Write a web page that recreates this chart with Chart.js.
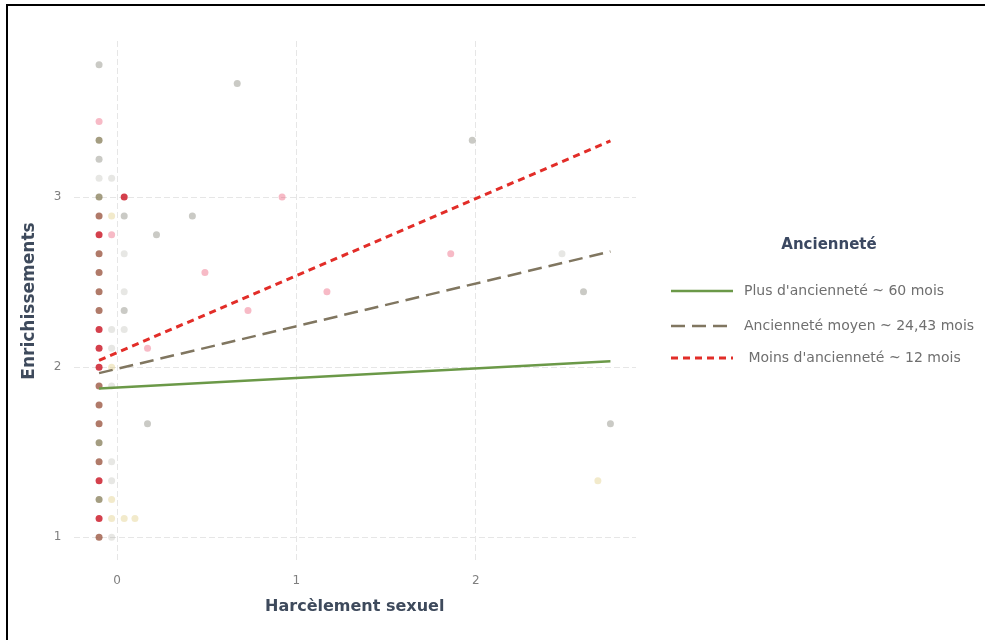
<!DOCTYPE html>
<html lang="fr">
<head>
<meta charset="utf-8">
<title>Enrichissements ~ Harcèlement sexuel</title>
<script src="https://cdn.jsdelivr.net/npm/chart.js@4.4.1/dist/chart.umd.min.js"></script>
<style>
  body { margin: 0; background: #fff; }
  #wrap { position: relative; width: 985px; height: 640px; }
  #cadre { position: absolute; left: 6px; top: 4px; right: 0; bottom: 0;
           border-top: 2px solid #000; border-left: 2px solid #000; pointer-events: none; }
</style>
</head>
<body>
<div id="wrap">
  <canvas id="chart" width="985" height="640"></canvas>
  <div id="cadre"></div>
</div>
<script>
// points observés (harcèlement sexuel, enrichissements, classe de couleur)
const harcelement = [
  -0.1, -0.1, -0.1, -0.1, -0.1, -0.1, -0.1, -0.1, -0.1, -0.1, -0.1, -0.1,
  -0.1, -0.1, -0.1, -0.1, -0.1, -0.1, -0.1, -0.1, -0.1, -0.1, -0.1, -0.1,
  -0.03, -0.03, -0.03, -0.03, -0.03, -0.03, -0.03, -0.03, -0.03, -0.03, -0.03, -0.03,
  0.04, 0.04, 0.04, 0.04, 0.04, 0.04, 0.04,
  0.1, 0.22, 0.17, 0.17, 0.42, 0.49, 0.67, 0.73, 0.92, 1.17, 1.86, 1.98, 2.48, 2.60, 2.75, 2.68
];
const enrichissement = [
  3.778, 3.444, 3.333, 3.222, 3.111, 3.0, 2.889, 2.778, 2.667, 2.556, 2.444, 2.333,
  2.222, 2.111, 2.0, 1.889, 1.778, 1.667, 1.556, 1.444, 1.333, 1.222, 1.111, 1.0,
  3.111, 2.889, 2.778, 2.222, 2.111, 2.0, 1.889, 1.444, 1.333, 1.222, 1.111, 1.0,
  3.0, 2.889, 2.667, 2.444, 2.333, 2.222, 1.111,
  1.111, 2.778, 2.111, 1.667, 2.889, 2.556, 3.667, 2.333, 3.0, 2.444, 2.667, 3.333, 2.667, 2.444, 1.667, 1.333
];
const classe = [
  3, 5, 2, 3, 4, 2, 1, 0, 1, 1, 1, 1,
  0, 0, 0, 1, 1, 1, 2, 1, 0, 2, 0, 1,
  4, 6, 5, 4, 4, 6, 4, 4, 4, 6, 6, 4,
  0, 3, 4, 4, 3, 4, 6,
  6, 3, 5, 3, 3, 5, 3, 5, 5, 5, 5, 3, 4, 3, 3, 6
];

// droites de régression par niveau d'ancienneté
const xDroite = [-0.1, 2.75];
const droitePlus = [1.875, 2.035];
const droiteMoyen = [1.965, 2.68];
const droiteMoins = [2.04, 3.33];
const legendeLabels = ["Plus d'ancienneté ~ 60 mois", "Ancienneté moyen ~ 24,43 mois", " Moins d'ancienneté ~ 12 mois"];

const xTicks = [0, 1, 2];
const yTicks = [1, 2, 3];

const police = '"DejaVu Sans", Verdana, sans-serif';
const couleursClasse = [
  'rgba(205, 30, 45, 0.85)',
  'rgba(150, 78, 55, 0.75)',
  'rgba(125, 115, 75, 0.7)',
  'rgba(150, 150, 140, 0.5)',
  'rgba(175, 175, 165, 0.3)',
  'rgba(235, 90, 120, 0.42)',
  'rgba(225, 205, 130, 0.42)'
];
const styleDroites = [
  { color: 'rgb(107, 153, 72)', width: 2.5, dash: [] },
  { color: 'rgb(128, 118, 96)', width: 2.5, dash: [14, 7] },
  { color: 'rgb(226, 45, 40)', width: 3, dash: [7, 5] }
];

const droite = ys => xDroite.map((x, i) => ({ x: x, y: ys[i] }));
const lignes = [droitePlus, droiteMoyen, droiteMoins].map((ys, i) => ({
  label: legendeLabels[i],
  data: droite(ys),
  showLine: true,
  borderColor: styleDroites[i].color,
  borderWidth: styleDroites[i].width,
  borderDash: styleDroites[i].dash,
  pointRadius: 0,
  fill: false
}));

const legendePlugin = {
  id: 'legendePlugin',
  afterDraw(chart) {
    const ctx = chart.ctx;
    ctx.save();
    ctx.fillStyle = '#3b4861';
    ctx.font = 'bold 15px ' + police;
    ctx.textAlign = 'center';
    ctx.textBaseline = 'middle';
    ctx.fillText('Ancienneté', 829, 245);
    const ys = [291, 326, 358];
    ctx.font = '14px ' + police;
    ctx.textAlign = 'left';
    styleDroites.forEach((s, i) => {
      ctx.strokeStyle = s.color;
      ctx.lineWidth = s.width;
      ctx.setLineDash(s.dash);
      ctx.beginPath();
      ctx.moveTo(671, ys[i]);
      ctx.lineTo(733, ys[i]);
      ctx.stroke();
      ctx.setLineDash([]);
      ctx.fillStyle = '#6f6f6f';
      ctx.fillText(legendeLabels[i], 744, ys[i]);
    });
    ctx.restore();
  }
};

const ctx = document.getElementById('chart').getContext('2d');
new Chart(ctx, {
  type: 'scatter',
  data: {
    datasets: lignes.concat([{
      label: 'points',
      data: harcelement.map((x, i) => ({ x: x, y: enrichissement[i] })),
      pointRadius: 3.5,
      pointBorderWidth: 0,
      pointBackgroundColor: classe.map(c => couleursClasse[c]),
      pointBorderColor: 'rgba(0,0,0,0)'
    }])
  },
  options: {
    responsive: false,
    animation: false,
    layout: { padding: { top: 41, right: 349, left: 0, bottom: 0 } },
    plugins: { legend: { display: false }, tooltip: { enabled: false } },
    scales: {
      x: {
        type: 'linear',
        min: -0.2425,
        max: 2.8925,
        afterBuildTicks: s => { s.ticks = xTicks.map(v => ({ value: v })); },
        afterFit: s => { s.height = 79; },
        border: { display: false, dash: [6, 3] },
        grid: { color: '#e6e6e6', lineWidth: 1, drawTicks: false },
        ticks: { color: '#7f7f7f', padding: 13, font: { family: police, size: 12 } },
        title: {
          display: true,
          text: 'Harcèlement sexuel',
          color: '#3e4a5c',
          padding: { top: 4, bottom: 24 },
          font: { family: police, size: 16, weight: 'bold' }
        }
      },
      y: {
        type: 'linear',
        min: 0.861,
        max: 3.917,
        afterBuildTicks: s => { s.ticks = yTicks.map(v => ({ value: v })); },
        afterFit: s => { s.width = 73.5; },
        border: { display: false, dash: [6, 3] },
        grid: { color: '#e6e6e6', lineWidth: 1, drawTicks: false },
        ticks: { color: '#7f7f7f', padding: 12, font: { family: police, size: 12 } },
        title: {
          display: true,
          text: 'Enrichissements',
          color: '#3e4a5c',
          padding: { top: 19, bottom: 4 },
          font: { family: police, size: 17, weight: 'bold' }
        }
      }
    }
  },
  plugins: [legendePlugin]
});
</script>
</body>
</html>
